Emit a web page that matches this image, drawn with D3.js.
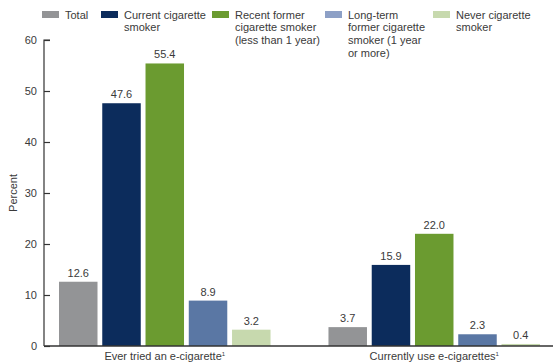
<!DOCTYPE html>
<html>
<head>
<meta charset="utf-8">
<script src="https://cdn.jsdelivr.net/npm/d3@7"></script>
<style>
  html, body { margin: 0; padding: 0; background: #fff; }
  svg { display: block; font-family: "Liberation Sans", Arial, sans-serif; }
</style>
</head>
<body>
<svg id="chart" width="560" height="364"></svg>
<script>
// Groups along the x axis
const groups = ["Ever tried an e-cigarette", "Currently use e-cigarettes"];
// Smoking status series
const seriesNames = ["Total", "Current cigarette smoker", "Recent former cigarette smoker (less than 1 year)", "Long-term former cigarette smoker (1 year or more)", "Never cigarette smoker"];
const legendLines = [
  ["Total"],
  ["Current cigarette", "smoker"],
  ["Recent former", "cigarette smoker", "(less than 1 year)"],
  ["Long-term", "former cigarette", "smoker (1 year", "or more)"],
  ["Never cigarette", "smoker"]
];
// Percent values per group, in series order
const everTried = [12.6, 47.6, 55.4, 8.9, 3.2];
const currentUse = [3.7, 15.9, 22.0, 2.3, 0.4];
const yTicks = [0, 10, 20, 30, 40, 50, 60];
const colors = ["#939496", "#0c2c5c", "#6b9b30", "#5a77a4", "#c7d9ae"];
const legendColors = ["#939496", "#0c2c5c", "#6b9b30", "#8da0c6", "#c7d9ae"];

const values = [everTried, currentUse];

const svg = d3.select("#chart");
const textColor = "#3a3a3a";

const x0 = d3.scaleBand().domain(groups).range([59, 540]).paddingInner(0.215).paddingOuter(0);
const x1 = d3.scaleBand().domain(d3.range(seriesNames.length)).range([0, x0.bandwidth()]).paddingInner(0.11).paddingOuter(0);
const y = d3.scaleLinear().domain([0, 60]).range([346, 40]);

// Y axis with inward ticks
const yAxis = svg.append("g").attr("transform", "translate(44,0)")
  .call(d3.axisRight(y).tickValues(yTicks).tickSize(6).tickFormat(d3.format("d")));
yAxis.select(".domain").attr("d", `M6,${y(60)}H0V${y(0)}`).attr("stroke", "#333").attr("stroke-width", 1.2);
yAxis.selectAll(".tick line").attr("stroke", "#333").attr("stroke-width", 1.2);
yAxis.selectAll(".tick text")
  .attr("x", -7).attr("text-anchor", "end")
  .attr("fill", textColor).style("font-size", "11px");

// Bars
const g = svg.append("g");
groups.forEach((grp, gi) => {
  const gg = g.append("g").attr("transform", `translate(${x0(grp)},0)`);
  gg.selectAll("rect").data(values[gi]).join("rect")
    .attr("x", (d, i) => x1(i))
    .attr("width", x1.bandwidth())
    .attr("y", d => y(d))
    .attr("height", d => y(0) - y(d))
    .attr("fill", (d, i) => colors[i]);
  gg.selectAll("text").data(values[gi]).join("text")
    .attr("x", (d, i) => x1(i) + x1.bandwidth() / 2)
    .attr("y", d => y(d) - 5)
    .attr("text-anchor", "middle")
    .attr("fill", textColor)
    .style("font-size", "11px")
    .text(d => d.toFixed(1));
});

// X axis baseline
svg.append("line").attr("x1", 44).attr("x2", 553).attr("y1", y(0)).attr("y2", y(0))
  .attr("stroke", "#333").attr("stroke-width", 1.4);

// Group labels
groups.forEach(grp => {
  const t = svg.append("text")
    .attr("x", x0(grp) + x0.bandwidth() / 2)
    .attr("y", 360)
    .attr("text-anchor", "middle")
    .attr("fill", textColor)
    .style("font-size", "11px")
    .text(grp);
  t.append("tspan").attr("dy", -4).style("font-size", "6px").text("1");
});

// Y axis title
svg.append("text")
  .attr("transform", `translate(17,${y(30)}) rotate(-90)`)
  .attr("text-anchor", "middle")
  .attr("fill", textColor)
  .style("font-size", "11px")
  .text("Percent");

// Legend
const legendX = [42, 101, 212, 325, 433];
seriesNames.forEach((name, i) => {
  const lg = svg.append("g").attr("transform", `translate(${legendX[i]},0)`);
  lg.append("rect").attr("x", 0).attr("y", 11).attr("width", 17).attr("height", 7).attr("fill", legendColors[i]);
  const t = lg.append("text").attr("x", 23).attr("y", 18.5).attr("fill", textColor).style("font-size", "11px");
  legendLines[i].forEach((line, li) => {
    t.append("tspan").attr("x", 23).attr("dy", li === 0 ? 0 : 12.8).text(line);
  });
});
</script>
</body>
</html>
